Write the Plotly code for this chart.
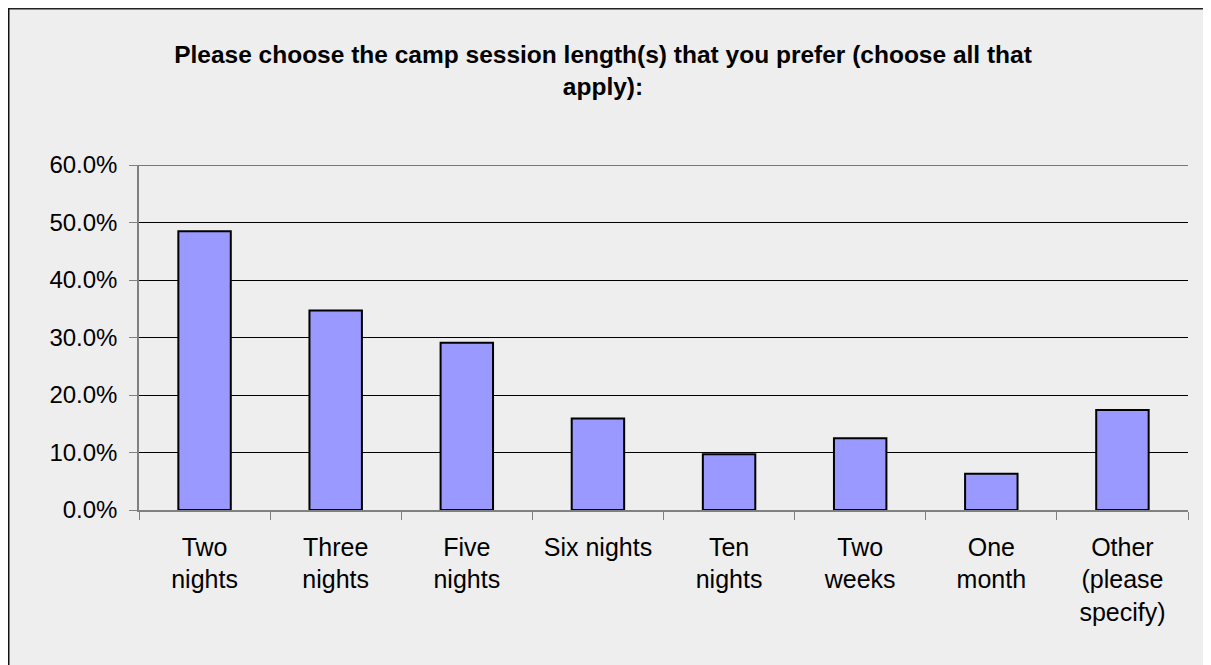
import plotly.graph_objects as go

# the page adds an 8px body margin, so figure pixels = page pixels - 8
W, H = 1211, 665
PLOT_L, PLOT_R, PLOT_T, PLOT_B = 131, 1180, 157, 502

categories = [
    "Two<br>nights", "Three<br>nights", "Five<br>nights", "Six nights",
    "Ten<br>nights", "Two<br>weeks", "One<br>month", "Other<br>(please<br>specify)",
]
shares = [0.485, 0.347, 0.291, 0.159, 0.097, 0.125, 0.063, 0.174]
y_ticks = [0, 0.1, 0.2, 0.3, 0.4, 0.5, 0.6]

TITLE = ("Please choose the camp session length(s) that you prefer (choose all that"
         "<br>apply):")

FONT = "Liberation Sans, Arial, sans-serif"
BG = "#eeeeee"


def px_x(p):
    return (p - PLOT_L) / (PLOT_R - PLOT_L)


def px_y(p):
    return (PLOT_B - p) / (PLOT_B - PLOT_T)


fig = go.Figure()
fig.add_trace(go.Bar(
    x=categories, y=shares,
    marker=dict(color="#9999ff", line=dict(color="#000000", width=2)),
    hoverinfo="skip",
))

# top gridline (plotly drops gridlines sitting on the range end)
fig.add_shape(type="line", xref="paper", yref="y",
              x0=px_x(PLOT_L - 8), x1=1, y0=y_ticks[-1], y1=y_ticks[-1],
              line=dict(color="#000000", width=1), layer="below")

# chart frame, top and left edges
fig.add_shape(type="line", xref="paper", yref="paper",
              x0=px_x(0), x1=px_x(W + 5), y0=px_y(0), y1=px_y(0),
              line=dict(color="#222222", width=3))
fig.add_shape(type="line", xref="paper", yref="paper",
              x0=px_x(0), x1=px_x(0), y0=px_y(0), y1=px_y(H + 5),
              line=dict(color="#111111", width=3))

fig.update_layout(
    width=W, height=H,
    paper_bgcolor=BG, plot_bgcolor=BG,
    margin=dict(l=PLOT_L, r=W - PLOT_R, t=PLOT_T, b=H - PLOT_B, pad=0),
    font=dict(family=FONT, color="#000000"),
    showlegend=False,
    bargap=0.6,
    title=dict(
        text=TITLE, xref="container", x=595 / W, xanchor="center",
        yref="container", y=1 - 55 / H, yanchor="top",
        font=dict(size=24.5, family=FONT, color="#000000", weight="bold"),
    ),
    xaxis=dict(
        type="category",
        showgrid=False,
        showline=True, linecolor="#808080", linewidth=1.5,
        ticks="outside", tickson="boundaries", ticklen=8, tickcolor="#808080",
        tickwidth=1,
        tickfont=dict(size=25, family=FONT, color="#000000"),
        ticklabelstandoff=14,
    ),
    yaxis=dict(
        range=[0, 0.6],
        tickvals=y_ticks, tickformat=".1%",
        showgrid=True, gridcolor="#000000", gridwidth=1,
        showline=True, linecolor="#808080", linewidth=1.5,
        ticks="outside", ticklen=8, tickcolor="#808080", tickwidth=1,
        tickfont=dict(size=24, family=FONT, color="#000000"),
        ticklabelstandoff=7,
        zeroline=False,
    ),
)

fig.write_html("out.html")
